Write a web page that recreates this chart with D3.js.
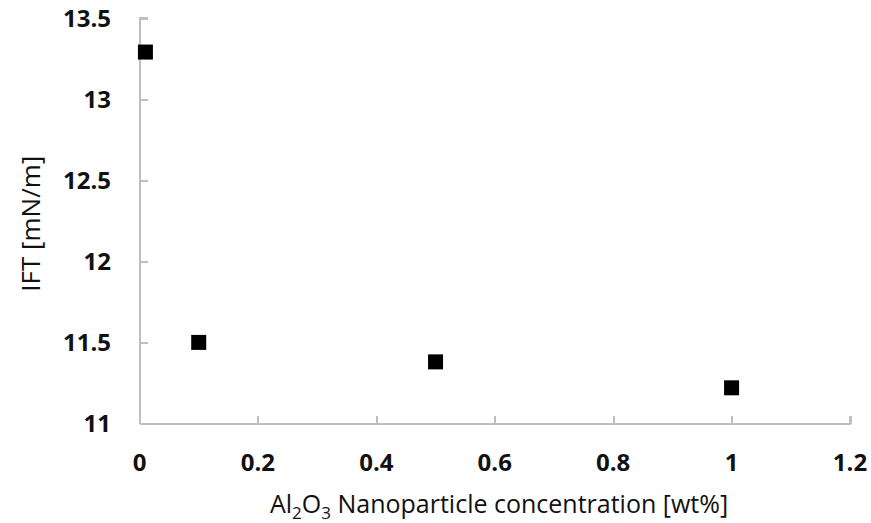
<!DOCTYPE html>
<html>
<head>
<meta charset="utf-8">
<script src="https://cdn.jsdelivr.net/npm/d3@7"></script>
<style>
  html, body { margin: 0; padding: 0; background: #fff; }
  svg { display: block; }
</style>
</head>
<body>
<svg id="chart" width="871" height="523"></svg>
<script>
// Al2O3 nanoparticle concentration (wt%) vs interfacial tension (mN/m)
const concentration = [0.01, 0.1, 0.5, 1.0];
const ift = [13.29, 11.5, 11.38, 11.22];
const xTicks = [0, 0.2, 0.4, 0.6, 0.8, 1, 1.2];
const yTicks = [11, 11.5, 12, 12.5, 13, 13.5];

const svg = d3.select("#chart");
const font = "'Open Sans', 'DejaVu Sans', sans-serif";
const axisColor = "#bfbfbf";

const x = d3.scaleLinear().domain([0, 1.2]).range([139.5, 850]);
const y = d3.scaleLinear().domain([11, 13.5]).range([423.5, 18]);

// Y axis: line on the left, short ticks pointing into the plot
const yAxis = svg.append("g")
  .attr("transform", `translate(${x(0)},0)`)
  .call(d3.axisRight(y).tickValues(yTicks).tickSize(8).tickFormat(""));
yAxis.select(".domain").attr("d", `M8,${y(13.5)}H0V${y(11)}`);

// X axis: line along the bottom, ticks pointing up
const xAxis = svg.append("g")
  .attr("transform", `translate(0,${y(11)})`)
  .call(d3.axisTop(x).tickValues(xTicks).tickSize(8).tickFormat(""));
xAxis.select(".domain").attr("d", `M${x(0)},0H${x(1.2)}V-8`);

svg.selectAll(".domain, .tick line")
  .attr("stroke", axisColor).attr("stroke-width", 2).attr("shape-rendering", "crispEdges");

// Tick labels
svg.append("g").selectAll("text").data(yTicks).join("text")
  .attr("x", 111).attr("y", d => y(d))
  .attr("dy", "0.36em")
  .attr("text-anchor", "end")
  .attr("font-family", font).attr("font-weight", "bold").attr("font-size", 24)
  .attr("fill", "#111")
  .text(d => d3.format("~g")(d));

svg.append("g").selectAll("text").data(xTicks).join("text")
  .attr("x", d => x(d)).attr("y", 471)
  .attr("text-anchor", "middle")
  .attr("font-family", font).attr("font-weight", "bold").attr("font-size", 24)
  .attr("fill", "#111")
  .text(d => d3.format("~g")(d));

// Axis titles
const xTitle = svg.append("text")
  .attr("x", 499).attr("y", 513)
  .attr("text-anchor", "middle")
  .attr("font-family", font).attr("font-size", 25).attr("fill", "#111");
xTitle.append("tspan").text("Al");
xTitle.append("tspan").attr("dy", 6).attr("font-size", 17).text("2");
xTitle.append("tspan").attr("dy", -6).text("O");
xTitle.append("tspan").attr("dy", 6).attr("font-size", 17).text("3");
xTitle.append("tspan").attr("dy", -6).text(" Nanoparticle concentration [wt%]");

svg.append("text")
  .attr("transform", `translate(40,${(y(11) + y(13.5)) / 2 + 3}) rotate(-90)`)
  .attr("text-anchor", "middle")
  .attr("font-family", font).attr("font-size", 26).attr("fill", "#111")
  .text("IFT [mN/m]");

// Square markers
const size = 15;
svg.append("g").selectAll("rect").data(concentration).join("rect")
  .attr("x", d => x(d) - size / 2)
  .attr("y", (d, i) => y(ift[i]) - size / 2)
  .attr("width", size).attr("height", size)
  .attr("fill", "#000");
</script>
</body>
</html>
